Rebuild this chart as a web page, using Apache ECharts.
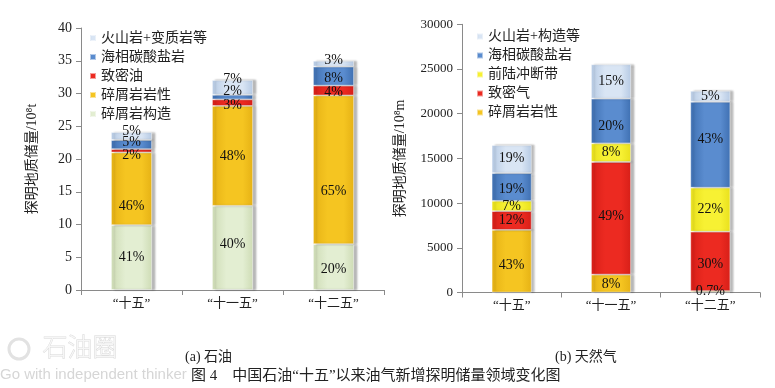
<!DOCTYPE html>
<html>
<head>
<meta charset="utf-8">
<script src="https://cdn.jsdelivr.net/npm/echarts@6/dist/echarts.min.js"></script>
<style>html,body{margin:0;padding:0;background:#fff}#c{width:775px;height:388px}</style>
</head>
<body>
<div id="c"></div>
<script>
// ---------- DATA ----------
var categories = ['“十五”', '“十一五”', '“十二五”'];

// (a) 石油, 10^8 t, stacked bottom -> top
var oilNames = ['碎屑岩构造', '碎屑岩岩性', '致密油', '海相碳酸盐岩', '火山岩+变质岩等'];
var oilClasticStructure = [9.9, 12.85, 7.0];
var oilClasticLitho     = [11.1, 15.25, 22.7];
var oilTight            = [0.5, 1.0, 1.5];
var oilCarbonate        = [1.4, 0.7, 2.9];
var oilVolcanic         = [1.2, 2.26, 0.9];
var oilPctStructure = ['41%', '40%', '20%'];
var oilPctLitho     = ['46%', '48%', '65%'];
var oilPctTight     = ['2%', '3%', '4%'];
var oilPctCarbonate = ['5%', '2%', '8%'];
var oilPctVolcanic  = ['5%', '7%', '3%'];

// (b) 天然气, 10^8 m, stacked bottom -> top
var gasNames = ['碎屑岩岩性', '致密气', '前陆冲断带', '海相碳酸盐岩', '火山岩+构造等'];
var gasClasticLitho = [7000, 2000, 160];
var gasTight        = [2100, 12600, 6640];
var gasForeland     = [1150, 2080, 4920];
var gasCarbonate    = [3100, 5000, 9610];
var gasVolcanic     = [3140, 3850, 1230];
var gasPctLitho     = ['43%', '8%', '0.7%'];
var gasPctTight     = ['12%', '49%', '30%'];
var gasPctForeland  = ['7%', '8%', '22%'];
var gasPctCarbonate = ['19%', '20%', '43%'];
var gasPctVolcanic  = ['19%', '15%', '5%'];

var oilTicks = [0, 40, 5];
var gasTicks = [0, 30000, 5000];

// ---------- STYLE ----------
var SERIF = "'Liberation Serif','Noto Sans CJK SC',serif";
function grad(edge, mid) {
  return new echarts.graphic.LinearGradient(0, 0, 1, 0, [
    {offset: 0, color: edge}, {offset: 0.35, color: mid}, {offset: 0.75, color: mid}, {offset: 1, color: edge}
  ]);
}
var C = {
  light:  grad('#b6cae4', '#d9e5f4'),
  blue:   grad('#3f70b2', '#5a8ccf'),
  red:    grad('#d71f18', '#ec2a21'),
  orange: grad('#e6b215', '#f5c521'),
  green:  grad('#cedcb5', '#e3eed2'),
  yellow: grad('#e9e01c', '#f7f133')
};

function mkSeries(name, data, pct, color, offs, xi, yi, stack, bw) {
  return {
    name: name, type: 'bar', stack: stack, xAxisIndex: xi, yAxisIndex: yi,
    barWidth: bw, data: data,
    itemStyle: {color: color, shadowColor: 'rgba(0,0,0,0.28)', shadowBlur: 2, shadowOffsetX: 3,
                borderColor: 'rgba(255,255,255,0.55)', borderWidth: 0.8},
    label: {
      show: true, position: 'inside', color: '#111', fontFamily: SERIF, fontSize: 14,
      formatter: function (p) { return pct[p.dataIndex]; }
    },
    labelLayout: function (p) { return {dy: offs[p.dataIndex]}; }
  };
}

var series = [
  mkSeries(oilNames[0], oilClasticStructure, oilPctStructure, C.green,  [0, -4, 2], 0, 0, 'oil', 41),
  mkSeries(oilNames[1], oilClasticLitho,     oilPctLitho,     C.orange, [18, 0, 22], 0, 0, 'oil', 41),
  mkSeries(oilNames[2], oilTight,            oilPctTight,     C.red,    [5, 3, 2], 0, 0, 'oil', 41),
  mkSeries(oilNames[3], oilCarbonate,        oilPctCarbonate, C.blue,   [-2, -6, 2], 0, 0, 'oil', 41),
  mkSeries(oilNames[4], oilVolcanic,         oilPctVolcanic,  C.light,  [-5, -8, -3], 0, 0, 'oil', 41),
  mkSeries(gasNames[0], gasClasticLitho, gasPctLitho,     C.orange, [4, 1, 0], 1, 1, 'gas', 40),
  mkSeries(gasNames[1], gasTight,        gasPctTight,     C.red,    [0, -2, 3], 1, 1, 'gas', 40),
  mkSeries(gasNames[2], gasForeland,     gasPctForeland,  C.yellow, [0, 0, 0], 1, 1, 'gas', 40),
  mkSeries(gasNames[3], gasCarbonate,    gasPctCarbonate, C.blue,   [2, 5, -5], 1, 1, 'gas', 40),
  mkSeries(gasNames[4], gasVolcanic,     gasPctVolcanic,  C.light,  [-1, 0, 0], 1, 1, 'gas', 40)
];

var axisLineStyle = {show: true, lineStyle: {color: '#8a8a8a', width: 1}};
function xAx(gi) {
  return {
    type: 'category', gridIndex: gi, data: categories,
    axisLine: axisLineStyle,
    axisTick: {show: true, length: 5, lineStyle: {color: '#8a8a8a'}},
    axisLabel: {color: '#222', fontFamily: SERIF, fontSize: 13, margin: 7}
  };
}
function yAx(gi, t, name, gap, fs) {
  return {
    type: 'value', gridIndex: gi, min: t[0], max: t[1], interval: t[2],
    name: name, nameLocation: 'middle', nameGap: gap, nameRotate: 90,
    nameTextStyle: {color: '#222', fontFamily: SERIF, fontSize: 14},
    axisLine: axisLineStyle,
    axisTick: {show: true, length: 5, lineStyle: {color: '#8a8a8a'}},
    axisLabel: {color: '#222', fontFamily: SERIF, fontSize: fs, margin: 9,
                formatter: function (v) { return String(v); }},
    splitLine: {show: false}
  };
}

var legendCommon = {
  orient: 'vertical', icon: 'rect', itemWidth: 6, itemHeight: 6, itemGap: 3,
  textStyle: {color: '#222', fontFamily: SERIF, fontSize: 14, lineHeight: 16}
};

var option = {
  animation: false,
  backgroundColor: '#fff',
  grid: [
    {left: 81, top: 28, width: 303, height: 262},
    {left: 462, top: 24.3, width: 298, height: 268.2}
  ],
  xAxis: [xAx(0), xAx(1)],
  yAxis: [
    yAx(0, oilTicks, '探明地质储量/10⁸t', 42, 14),
    yAx(1, gasTicks, '探明地质储量/10⁸m', 55, 13)
  ],
  legend: [
    Object.assign({left: 84, top: 25, data: oilNames.slice().reverse()}, legendCommon),
    Object.assign({left: 471, top: 23.5, data: gasNames.slice().reverse()}, legendCommon)
  ],
  series: series,
  graphic: [
    {type: 'circle', shape: {cx: 19, cy: 349, r: 10}, style: {fill: 'none', stroke: '#e2e2e2', lineWidth: 3}},
    {type: 'text', left: 42, top: 334, style: {text: '石油圈', fontFamily: "'Noto Sans CJK SC',sans-serif", fontWeight: 300, fontSize: 25, fill: '#f6f6f6', stroke: '#d6d6d6', lineWidth: 0.8}},
    {type: 'text', left: 0, top: 367, style: {text: 'Go with independent thinker', fontFamily: "'Liberation Sans',sans-serif", fontSize: 15, fill: '#d6d6d6'}},
    {type: 'text', left: 185, top: 350, style: {text: '(a) 石油', fontFamily: SERIF, fontSize: 14, fill: '#222'}},
    {type: 'text', left: 555, top: 350, style: {text: '(b) 天然气', fontFamily: SERIF, fontSize: 14, fill: '#222'}},
    {type: 'text', left: 191, top: 369, style: {text: '图 4　中国石油“十五”以来油气新增探明储量领域变化图', fontFamily: SERIF, fontSize: 15, fill: '#222'}}
  ]
};

var chart = echarts.init(document.getElementById('c'), null, {renderer: 'canvas'});
chart.setOption(option);
</script>
</body>
</html>
